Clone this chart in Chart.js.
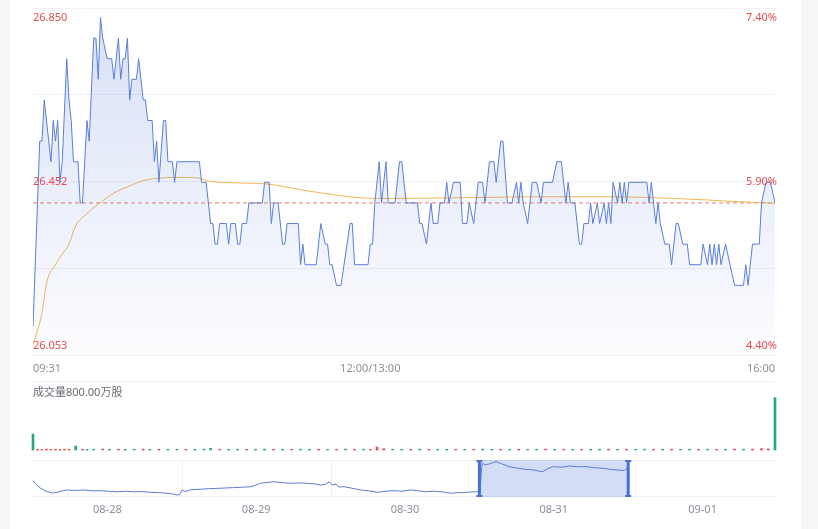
<!DOCTYPE html>
<html>
<head>
<meta charset="utf-8">
<script src="https://cdn.jsdelivr.net/npm/chart.js@4.4.1/dist/chart.umd.min.js"></script>
<style>
  html, body { margin: 0; padding: 0; background: #f5f6f8; width: 818px; height: 529px; overflow: hidden; }
  #panel { position: absolute; left: 10px; top: 0; width: 791px; height: 529px; background: #fff; }
  canvas { position: absolute; left: 0; }
</style>
</head>
<body>
<div id="panel"></div>
<canvas id="priceChart" width="818" height="380" style="top:0"></canvas>
<canvas id="volChart" width="818" height="75" style="top:380px"></canvas>
<canvas id="navChart" width="818" height="74" style="top:455px"></canvas>
<script>
// 分时数据 (minute index from 09:31, 0..330)
const priceMinutes = [0,3,4,5,8,9,10,11,12,13,15,16,17,18,20,21,22,23,24,25,27,28,29,30,31,33,35,36,38,39,40,41,42,43,44,46,47,49,50,51,53,54,55,56,58,59,60,62,63,64,74,75,77,79,80,81,82,83,86,87,88,90,91,92,93,95,96,102,103,105,106,107,109,111,112,113,118,119,120,121,126,128,130,131,132,133,135,137,141,142,143,149,150,151,152,154,155,157,158,161,163,164,166,171,172,173,175,177,178,180,181,183,184,185,187,190,191,193,194,196,198,200,201,203,205,206,208,209,211,213,215,216,217,218,220,222,224,226,227,231,233,235,237,238,239,241,243,244,245,247,248,249,251,252,254,255,256,257,258,260,261,262,263,264,265,273,274,275,277,278,279,281,283,284,286,287,289,291,292,297,298,300,301,302,303,304,305,306,308,310,312,316,317,318,320,323,324,326,328,330];
const priceValues = [26.10,26.55,26.55,26.65,26.50,26.60,26.55,26.60,26.45,26.50,26.75,26.65,26.60,26.50,26.50,26.40,26.40,26.50,26.60,26.55,26.80,26.80,26.70,26.85,26.80,26.75,26.75,26.70,26.80,26.70,26.75,26.75,26.80,26.65,26.70,26.70,26.75,26.65,26.65,26.60,26.60,26.50,26.55,26.45,26.60,26.60,26.50,26.50,26.45,26.50,26.50,26.45,26.45,26.35,26.35,26.30,26.30,26.35,26.35,26.30,26.35,26.35,26.30,26.30,26.35,26.35,26.40,26.40,26.45,26.45,26.35,26.40,26.40,26.30,26.30,26.35,26.35,26.25,26.30,26.25,26.25,26.35,26.30,26.30,26.25,26.25,26.20,26.20,26.35,26.35,26.25,26.25,26.30,26.30,26.40,26.50,26.40,26.50,26.40,26.40,26.50,26.50,26.40,26.40,26.35,26.35,26.30,26.40,26.35,26.35,26.40,26.40,26.45,26.40,26.45,26.45,26.35,26.35,26.40,26.35,26.45,26.45,26.40,26.50,26.50,26.45,26.55,26.55,26.40,26.40,26.45,26.40,26.45,26.40,26.35,26.45,26.45,26.40,26.45,26.45,26.50,26.50,26.40,26.45,26.40,26.40,26.30,26.30,26.35,26.35,26.40,26.35,26.40,26.35,26.40,26.35,26.40,26.35,26.45,26.40,26.45,26.40,26.45,26.40,26.45,26.45,26.40,26.45,26.35,26.40,26.35,26.30,26.30,26.25,26.35,26.35,26.30,26.30,26.25,26.25,26.30,26.25,26.30,26.25,26.30,26.25,26.30,26.25,26.30,26.25,26.20,26.20,26.25,26.20,26.30,26.30,26.40,26.45,26.45,26.40];

const avgMinutes = [0,2,4,6,10,13,16,19,24,30,36,42,49,56,65,74,77,89,104,120,135,142,153,165,208,225,248,255,285,314,330];
const avgValues = [26.055,26.090,26.133,26.205,26.250,26.276,26.300,26.345,26.374,26.401,26.424,26.439,26.454,26.460,26.462,26.460,26.454,26.449,26.446,26.431,26.419,26.414,26.411,26.411,26.414,26.415,26.415,26.415,26.411,26.403,26.399];

const refPrice = 26.40;
const priceTicks = [26.850, 26.452, 26.053];
const pctTicks = ['7.40%', '5.90%', '4.40%'];
const timeTicks = [0, 150, 330];
const timeLabels = ['09:31', '12:00/13:00', '16:00'];

// 成交量 (万股)
const volMinutes = [0,2,4,6,8,10,12,14,16,19,22,24,27,31,34,38,41,45,49,52,56,60,64,68,72,76,79,83,87,91,95,99,103,107,111,115,119,123,127,131,135,139,143,147,150,153,156,160,164,168,172,176,180,184,188,192,196,200,204,208,212,216,220,224,228,232,236,240,244,248,252,256,260,264,268,272,276,280,284,288,292,296,300,304,308,312,316,320,324,327,330];
const volValues = [240,12,10,12,10,12,10,12,10,60,12,10,12,14,10,12,10,12,14,10,12,10,12,10,12,14,25,12,10,12,10,12,14,10,12,10,12,10,12,10,12,14,10,12,10,45,20,12,10,12,14,10,12,10,12,10,12,14,10,12,10,12,10,12,14,10,12,10,12,10,12,14,10,12,10,12,10,12,14,10,12,10,12,10,12,14,12,14,20,16,790];
const volUp = [false,true,true,true,true,true,true,true,true,false,true,false,false,true,false,true,false,false,true,false,true,false,false,true,false,false,false,true,false,false,true,false,false,true,false,true,false,false,true,false,true,false,true,false,true,true,true,false,false,true,false,true,false,false,true,false,true,false,false,true,false,true,false,false,true,false,true,false,true,false,false,true,false,true,false,false,true,false,true,false,false,true,false,true,false,true,false,true,true,true,false];
const volLabel = '成交量800.00万股';

// 导航条 (minutes since 08-28 open, 331 per day)
const navMinutes = [0,7,16,29,45,60,75,94,112,132,149,167,187,205,223,241,261,279,298,310,321,326,332,339,350,372,390,410,428,446,464,484,495,506,520,535,551,573,591,610,629,640,651,659,666,674,680,692,707,729,747,767,785,803,819,841,857,874,892,911,921,933,944,955,970,985,994,999,1006,1015,1022,1030,1042,1059,1077,1097,1113,1134,1144,1156,1175,1193,1211,1231,1249,1268,1283,1297,1309,1316,1326];
const navValues = [25.80,25.60,25.40,25.22,25.12,25.20,25.29,25.26,25.29,25.24,25.25,25.22,25.19,25.22,25.19,25.20,25.16,25.14,25.11,25.07,25.01,25.03,25.29,25.20,25.30,25.33,25.36,25.38,25.40,25.42,25.44,25.47,25.55,25.66,25.70,25.75,25.70,25.66,25.68,25.66,25.62,25.56,25.60,25.75,25.56,25.62,25.45,25.47,25.40,25.29,25.24,25.16,25.22,25.25,25.22,25.29,25.24,25.19,25.22,25.19,25.13,25.11,25.14,25.14,25.17,25.19,25.19,26.77,26.68,26.73,26.80,26.86,26.75,26.58,26.50,26.43,26.40,26.30,26.45,26.58,26.55,26.62,26.58,26.58,26.52,26.49,26.43,26.40,26.38,26.36,26.67];
const navDates = ['08-28', '08-29', '08-30', '08-31', '09-01'];
const navSelection = [993, 1324];

const FONT = '"Noto Sans", "Noto Sans CJK SC", sans-serif';
Chart.defaults.font.family = FONT;

const yMin = 26.031, yMax = 26.873;
const plotSide = { left: 33, right: 43 };

const mainLabels = {
    id: 'mainLabels',
    afterDraw(chart) {
        const { ctx, chartArea: a, scales: { x, y } } = chart;
        ctx.save();
        ctx.font = '11px ' + FONT;
        ctx.textBaseline = 'middle';
        ctx.fillStyle = '#e54d4d';
        priceTicks.forEach((v, i) => {
            const py = y.getPixelForValue(v);
            ctx.textAlign = 'left';
            ctx.fillText(v.toFixed(3), a.left, py);
            ctx.textAlign = 'right';
            ctx.fillText(pctTicks[i], a.right + 2, py);
        });
        ctx.fillStyle = '#8c9099';
        timeTicks.forEach((t, i) => {
            ctx.textAlign = i === 0 ? 'left' : (i === timeTicks.length - 1 ? 'right' : 'center');
            ctx.fillText(timeLabels[i], x.getPixelForValue(t), a.bottom + 14);
        });
        ctx.restore();
    }
};

new Chart(document.getElementById('priceChart'), {
    type: 'line',
    data: {
        datasets: [{
            data: priceMinutes.map((m, i) => ({ x: m, y: priceValues[i] })),
            borderColor: '#5a7ddb',
            borderWidth: 1,
            pointRadius: 0,
            fill: 'start',
            backgroundColor: (c) => {
                const { ctx, chartArea } = c.chart;
                if (!chartArea) return 'rgba(90,125,219,0.1)';
                const g = ctx.createLinearGradient(0, chartArea.top, 0, chartArea.bottom);
                g.addColorStop(0, 'rgba(90,125,219,0.24)');
                g.addColorStop(1, 'rgba(90,125,219,0.02)');
                return g;
            }
        }, {
            data: avgMinutes.map((m, i) => ({ x: m, y: avgValues[i] })),
            borderColor: '#f2b650',
            borderWidth: 1,
            pointRadius: 0,
            cubicInterpolationMode: 'monotone',
            fill: false
        }, {
            data: [{ x: 0, y: refPrice }, { x: 330, y: refPrice }],
            borderColor: '#ee7c66',
            borderWidth: 1,
            borderDash: [4, 3],
            pointRadius: 0,
            fill: false
        }]
    },
    options: {
        responsive: false,
        animation: false,
        layout: { padding: { left: plotSide.left, right: plotSide.right, top: 8, bottom: 25 } },
        plugins: { legend: { display: false }, tooltip: { enabled: false } },
        scales: {
            x: { type: 'linear', min: 0, max: 330, display: false },
            y: {
                min: yMin, max: yMax,
                ticks: { display: false },
                border: { display: false },
                grid: { color: '#eff1f4', drawTicks: false },
                afterBuildTicks: (s) => {
                    s.ticks = [0, 1, 2, 3, 4].map(i => ({ value: yMin + i * (yMax - yMin) / 4 }));
                }
            }
        }
    },
    plugins: [mainLabels]
});

const volDecor = {
    id: 'volDecor',
    beforeDraw(chart) {
        const { ctx, chartArea: a } = chart;
        ctx.save();
        ctx.strokeStyle = '#eff1f4';
        ctx.beginPath();
        ctx.moveTo(a.left, 1.5);
        ctx.lineTo(a.right, 1.5);
        ctx.stroke();
        ctx.font = '11px ' + FONT;
        ctx.fillStyle = '#666a73';
        ctx.textBaseline = 'middle';
        ctx.textAlign = 'left';
        ctx.fillText(volLabel, a.left, 13);
        ctx.restore();
    }
};

new Chart(document.getElementById('volChart'), {
    type: 'bar',
    data: {
        datasets: [{
            data: volMinutes.map((m, i) => ({ x: m, y: volValues[i] })),
            backgroundColor: volUp.map(u => u ? '#e54d4d' : '#22a67c'),
            barThickness: 2,
            clip: 3
        }]
    },
    options: {
        responsive: false,
        animation: false,
        layout: { padding: { left: plotSide.left, right: plotSide.right, top: 17, bottom: 5 } },
        plugins: { legend: { display: false }, tooltip: { enabled: false } },
        scales: {
            x: { type: 'linear', min: 0, max: 330, display: false, offset: false },
            y: { min: 0, max: 800, display: false }
        }
    },
    plugins: [volDecor]
});

const navDecor = {
    id: 'navDecor',
    beforeDatasetsDraw(chart) {
        const { ctx, chartArea: a, scales: { x } } = chart;
        ctx.save();
        ctx.strokeStyle = '#eff1f4';
        ctx.lineWidth = 1;
        ctx.beginPath();
        ctx.moveTo(a.left, a.top + 0.5); ctx.lineTo(a.right, a.top + 0.5);
        ctx.moveTo(a.left, a.bottom - 0.5); ctx.lineTo(a.right, a.bottom - 0.5);
        [331, 662, 993, 1324].forEach(v => {
            const px = Math.round(x.getPixelForValue(v)) + 0.5;
            ctx.moveTo(px, a.top); ctx.lineTo(px, a.bottom);
        });
        ctx.stroke();
        ctx.restore();
    },
    afterDatasetsDraw(chart) {
        const { ctx, chartArea: a, scales: { x } } = chart;
        const x0 = x.getPixelForValue(navSelection[0]);
        const x1 = x.getPixelForValue(navSelection[1]);
        ctx.save();
        ctx.fillStyle = 'rgba(90,125,219,0.26)';
        ctx.fillRect(x0, a.top, x1 - x0, a.bottom - a.top);
        ctx.fillStyle = '#4a6ed8';
        [x0, x1].forEach(px => {
            ctx.fillRect(px - 1.5, a.top, 3, a.bottom - a.top);
            ctx.fillRect(px - 3, a.top, 6, 2);
            ctx.fillRect(px - 3, a.bottom - 2, 6, 2);
        });
        ctx.restore();
    },
    afterDraw(chart) {
        const { ctx, chartArea: a, scales: { x } } = chart;
        ctx.save();
        ctx.font = '11px ' + FONT;
        ctx.fillStyle = '#8c9099';
        ctx.textAlign = 'center';
        ctx.textBaseline = 'middle';
        navDates.forEach((d, i) => {
            ctx.fillText(d, x.getPixelForValue(i * 331 + 165.5), a.bottom + 13);
        });
        ctx.restore();
    }
};

new Chart(document.getElementById('navChart'), {
    type: 'line',
    data: {
        datasets: [{
            data: navMinutes.map((m, i) => ({ x: m, y: navValues[i] })),
            borderColor: '#5a7ddb',
            borderWidth: 1,
            pointRadius: 0,
            fill: false
        }]
    },
    options: {
        responsive: false,
        animation: false,
        layout: { padding: { left: plotSide.left, right: plotSide.right - 2, top: 5, bottom: 32 } },
        plugins: { legend: { display: false }, tooltip: { enabled: false } },
        scales: {
            x: { type: 'linear', min: 0, max: 1655, display: false },
            y: { min: 24.90, max: 26.95, display: false }
        }
    },
    plugins: [navDecor]
});
</script>
</body>
</html>
